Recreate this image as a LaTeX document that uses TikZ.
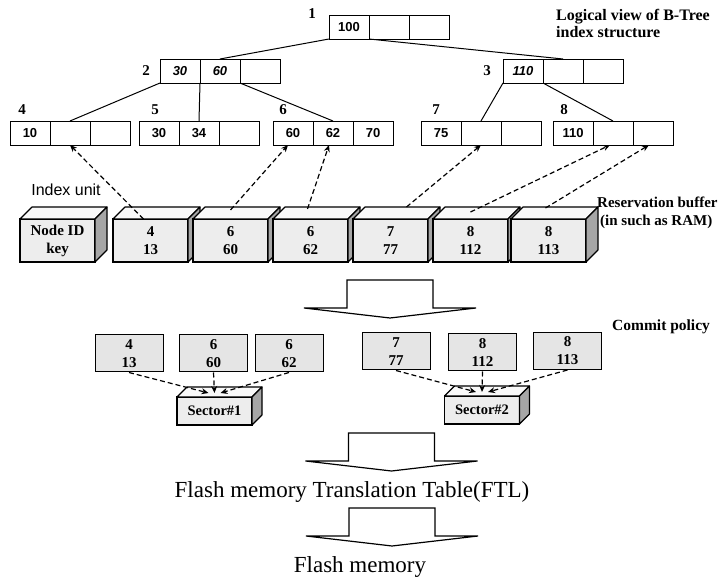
\documentclass[tikz,border=0pt]{standalone}
\usepackage{fontspec}
\setmainfont{Liberation Serif}
\newfontfamily\sansfam{Liberation Sans}
\usetikzlibrary{arrows.meta,positioning}
\tikzset{
  cell/.style={draw,line width=0.9pt,fill=white,minimum width=40pt,minimum height=24pt,
               inner sep=0pt,outer sep=0pt,font=\sansfam\bfseries\fontsize{13}{13}\selectfont},
  idlbl/.style={inner sep=0pt,font=\bfseries\fontsize{15}{15}\selectfont},
  front/.style={draw,line width=1.1pt,fill=gray!14,minimum width=75pt,minimum height=43pt,
               inner sep=0pt,outer sep=0pt,align=center,font=\bfseries\fontsize{15}{18}\selectfont},
  topface/.style={draw,line width=1.1pt,fill=gray!5,line join=round},
  sideface/.style={draw,line width=1.1pt,fill=gray!70,line join=round},
  flat/.style={draw,line width=1pt,fill=gray!20,minimum width=68pt,minimum height=37pt,
               inner sep=0pt,align=center,font=\bfseries\fontsize{15}{18}\selectfont},
  sector/.style={front,minimum height=28pt,font=\bfseries\fontsize{14.5}{14.5}\selectfont},
  note/.style={inner sep=0pt,anchor=west,align=left,font=\bfseries\fontsize{15.5}{17}\selectfont},
  bigtext/.style={inner sep=0pt,font=\fontsize{23}{23}\selectfont},
  treeline/.style={line width=1pt},
  ptr/.style={line width=1.2pt,dash pattern=on 5pt off 3pt,-{Stealth[length=7pt,width=6pt]}},
  hollow/.style={draw,line width=1.2pt,fill=white,line join=miter},
}
\newcommand{\treenode}[5]{%
  \node[cell] (#1a) at (#2) {#3};
  \node[cell,right=0pt of #1a] (#1b) {#4};
  \node[cell,right=0pt of #1b] (#1c) {#5};
}
\newcommand{\bufcube}[4]{%
  \node[#2] (#1) {#3};
  \filldraw[topface] (#1.north west) -- ++(#4,#4) -- ([shift={(#4,#4)}]#1.north east)
    -- (#1.north east) -- cycle;
  \filldraw[sideface] (#1.north east) -- ++(#4,#4) -- ([shift={(#4,#4)}]#1.south east)
    -- (#1.south east) -- cycle;
}
\newcommand{\hollowarrow}[1]{%
  \draw[hollow] ([xshift=-43pt]#1) -- ++(86,0) -- ++(0,28) -- ++(43,0) -- ++(-86,10)
    -- ++(-86,-10) -- ++(43,0) -- cycle;
}
\begin{document}
\begin{tikzpicture}[x=1pt,y=-1pt]
  \useasboundingbox (0,0) rectangle (724,580);

  \treenode{n1}{349,27}{100}{}{}
  \treenode{n2}{180,71}{\itshape 30}{\itshape 60}{}
  \treenode{n3}{523,71}{\itshape 110}{}{}
  \treenode{n4}{30,133}{10}{}{}
  \treenode{n5}{159,133}{30}{34}{}
  \treenode{n6}{293,133}{60}{62}{70}
  \treenode{n7}{441,133}{75}{}{}
  \treenode{n8}{573,133}{110}{}{}

  \node[idlbl] (l1) at ([xshift=-17pt,yshift=1pt]n1a.north west) {1};
  \node[idlbl,left=10pt of n2a] (l2) {2};
  \node[idlbl,left=12pt of n3a] (l3) {3};
  \node[idlbl] (l4) at ([xshift=12pt,yshift=11pt]n4a.north west) {4};
  \node[idlbl] (l5) at ([xshift=16pt,yshift=11pt]n5a.north west) {5};
  \node[idlbl] (l6) at ([xshift=10pt,yshift=11pt]n6a.north west) {6};
  \node[idlbl] (l7) at ([xshift=15pt,yshift=11pt]n7a.north west) {7};
  \node[idlbl] (l8) at ([xshift=11pt,yshift=11pt]n8a.north west) {8};

  \draw[treeline] (n1a.south west) -- (n2b.north);
  \draw[treeline] (n1a.south east) -- (n3b.north);
  \draw[treeline] (n2a.south west) -- (n4b.north);
  \draw[treeline] (n2a.south east) -- (n5b.north);
  \draw[treeline] (n2b.south east) -- (n6b.north);
  \draw[treeline] (n3a.south west) -- (n7b.north);
  \draw[treeline] (n3a.south east) -- (n8b.north);

  \node[note,font=\bfseries\fontsize{16}{17}\selectfont] (lv) at (556,23) {Logical view of B-Tree\\index structure};
  \node[inner sep=0pt,font=\sansfam\fontsize{16}{16}\selectfont] (iu) at (66,190) {Index unit};

  \bufcube{key}{front,at={(57.5,240.5)}}{Node ID\\key}{12pt}
  \bufcube{c4}{front,right=18pt of key}{4\\13}{12pt}
  \bufcube{c6a}{front,right=5pt of c4}{6\\60}{12pt}
  \bufcube{c6b}{front,right=5pt of c6a}{6\\62}{12pt}
  \bufcube{c7}{front,right=5pt of c6b}{7\\77}{12pt}
  \bufcube{c8a}{front,right=5pt of c7}{8\\112}{12pt}
  \bufcube{c8b}{front,right=3pt of c8a}{8\\113}{12pt}

  \node[note,font=\bfseries\fontsize{15}{17}\selectfont] (rb1) at (597,202) {Reservation buffer};
  \node[note,font=\bfseries\fontsize{15}{17}\selectfont] (rb2) at (600,222) {(in such as RAM)};

  \draw[ptr] ([xshift=-7pt]c4.north) -- (n4b.south);
  \draw[ptr] ([yshift=9pt]c6a.north) -- ([xshift=-5pt]n6a.south);
  \draw[ptr] ([xshift=-3pt,yshift=10pt]c6b.north) -- ([xshift=-4pt]n6b.south);
  \draw[ptr] ([xshift=16pt,yshift=12pt]c7.north) -- (n7b.south);
  \draw[ptr] ([yshift=7pt]c8a.north) -- ([xshift=-3pt]n8b.south);
  \draw[ptr] ([xshift=-3pt,yshift=11pt]c8b.north) -- ([xshift=-4pt]n8c.south);

  \coordinate (a1) at (390,280);
  \hollowarrow{a1}

  \node[note] (cp) at (612,327) {Commit policy};
  \node[flat] (p4) at (129,353.5) {4\\13};
  \node[flat] (p6a) at (213.5,353.5) {6\\60};
  \node[flat] (p6b) at (289,353.5) {6\\62};
  \node[flat] (p7) at (396,351.5) {7\\77};
  \node[flat] (p8a) at (482.5,352.5) {8\\112};
  \node[flat] (p8b) at (567.5,351) {8\\113};

  \bufcube{s1}{sector,at={(214.5,411)}}{Sector\#1}{10pt}
  \bufcube{s2}{sector,at={(482,410)}}{Sector\#2}{10pt}

  \draw[ptr] (p4.south) -- ([xshift=-6pt,yshift=4pt]s1.north);
  \draw[ptr] (p6a.south) -- ([yshift=4pt]s1.north);
  \draw[ptr] (p6b.south) -- ([xshift=6pt,yshift=4pt]s1.north);
  \draw[ptr] (p7.south) -- ([xshift=-6pt,yshift=4pt]s2.north);
  \draw[ptr] (p8a.south) -- ([yshift=4pt]s2.north);
  \draw[ptr] (p8b.south) -- ([xshift=6pt,yshift=4pt]s2.north);

  \coordinate (a2) at (391.5,433);
  \hollowarrow{a2}
  \node[bigtext] (ftl) at (352,492) {Flash memory Translation Table(FTL)};
  \coordinate (a3) at (392,508);
  \hollowarrow{a3}
  \node[bigtext] (fm) at (360,567) {Flash memory};
\end{tikzpicture}
\end{document}
